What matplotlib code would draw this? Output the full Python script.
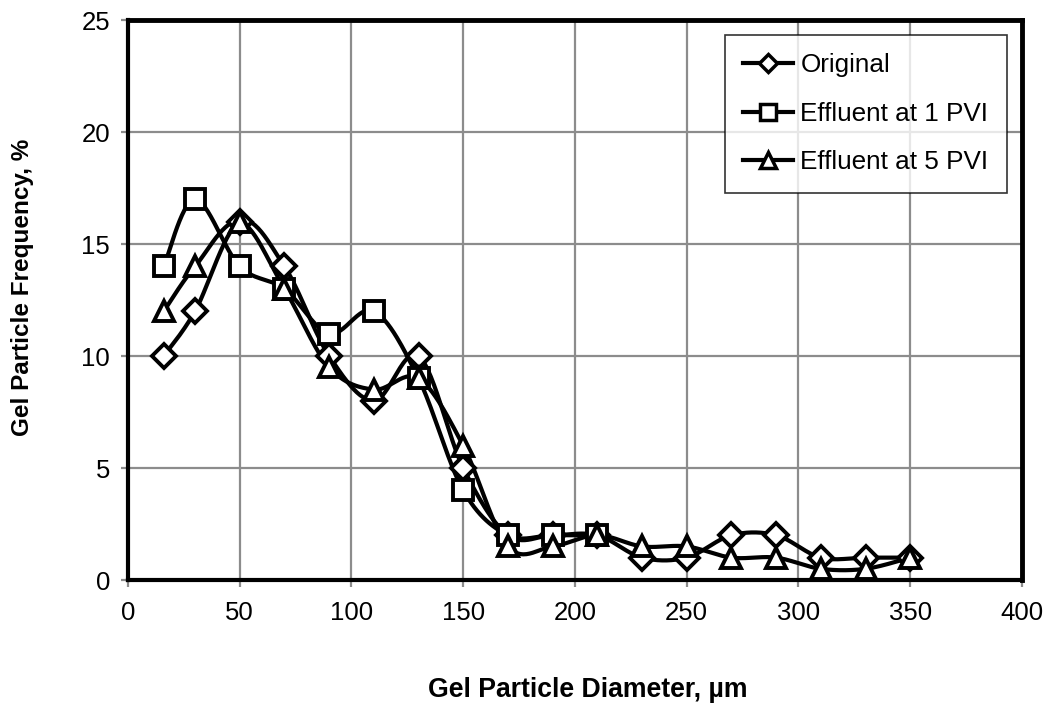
import numpy as np
import matplotlib
matplotlib.use("Agg")
import matplotlib.pyplot as plt
from matplotlib.lines import Line2D

plt.rcParams['font.family'] = ['Liberation Sans', 'DejaVu Sans']

# Particle diameter bins (µm) and frequency (%) for each sample
diameter = [16, 30, 50, 70, 90, 110, 130, 150, 170, 190, 210, 230, 250, 270, 290, 310, 330, 350]
original = [10, 12, 16, 14, 10, 8, 10, 5, 2, 2, 2, 1, 1, 2, 2, 1, 1, 1]

diameter_1pvi = [16, 30, 50, 70, 90, 110, 130, 150, 170, 190, 210]
effluent_1pvi = [14, 17, 14, 13, 11, 12, 9, 4, 2, 2, 2]

effluent_5pvi = [12, 14, 16, 13, 9.5, 8.5, 9, 6, 1.5, 1.5, 2, 1.5, 1.5, 1, 1, 0.5, 0.5, 1]

x_ticks = [0, 50, 100, 150, 200, 250, 300, 350, 400]
y_ticks = [0, 5, 10, 15, 20, 25]


def smooth(xs, ys, n=30):
    """Cardinal (Catmull-Rom style) Bezier smoothing through every point."""
    xs = np.asarray(xs, float)
    ys = np.asarray(ys, float)
    pts = np.column_stack([xs, ys])
    out = []
    m = len(pts)
    t = np.linspace(0, 1, n)[:, None]
    for i in range(m - 1):
        p0 = pts[i - 1] if i > 0 else pts[i]
        p1 = pts[i]
        p2 = pts[i + 1]
        p3 = pts[i + 2] if i + 2 < m else pts[i + 1]
        c1 = p1 + (p2 - p0) / 6.0
        c2 = p2 - (p3 - p1) / 6.0
        seg = ((1 - t) ** 3) * p1 + 3 * ((1 - t) ** 2) * t * c1 + 3 * (1 - t) * t ** 2 * c2 + t ** 3 * p2
        out.append(seg if i == 0 else seg[1:])
    seg = np.vstack(out)
    return seg[:, 0], seg[:, 1]


fig = plt.figure(figsize=(10.5, 7.07), dpi=100)
ax = fig.add_axes([0.1219, 0.1796, 0.8514, 0.7921])

series = [
    ("Original", diameter, original, "D", 12.5, 9.5),
    ("Effluent at 1 PVI", diameter_1pvi, effluent_1pvi, "s", 14.5, 11),
    ("Effluent at 5 PVI", diameter, effluent_5pvi, "^", 14.5, 11),
]

lw = 3.0
handles = []
for label, xs, ys, mk, ms, ms_leg in series:
    sx, sy = smooth(xs, ys)
    ax.plot(sx, sy, color="black", lw=lw, solid_capstyle="round", zorder=3)
    ax.plot(xs, ys, linestyle="none", marker=mk, markersize=ms,
            markerfacecolor="white", markeredgecolor="black",
            markeredgewidth=2.8, zorder=4)
    handles.append(Line2D([0], [0], color="black", lw=lw, marker=mk,
                          markersize=ms_leg, markerfacecolor="white",
                          markeredgecolor="black", markeredgewidth=2.5,
                          label=label))

ax.set_xlim(0, 400)
ax.set_ylim(0, 25)
ax.set_xticks(x_ticks)
ax.set_yticks(y_ticks)
ax.grid(True, color="#8c8c8c", lw=1.6, zorder=0)
ax.set_axisbelow(True)
ax.tick_params(axis="both", direction="out", length=5, width=1.6,
               color="#8c8c8c", labelsize=18.5)
ax.tick_params(axis="x", pad=10)
ax.tick_params(axis="y", pad=8)
for side in ["top", "right", "bottom", "left"]:
    ax.spines[side].set_color("black")
ax.spines["top"].set_linewidth(3.5)
ax.spines["right"].set_linewidth(3.5)
ax.spines["bottom"].set_linewidth(3.0)
ax.spines["left"].set_linewidth(3.0)

ax.set_xlabel("Gel Particle Diameter, µm", fontsize=19.2, fontweight="bold")
ax.set_ylabel("Gel Particle Frequency, %", fontsize=17.5, fontweight="bold")
# label centres placed in figure pixels: x label at (588, 690), y label at (23, 287)
ax.xaxis.set_label_coords((588 - 128) / 894, (580 - 690) / 560, transform=ax.transAxes)
ax.xaxis.label.set_va("center")
ax.yaxis.set_label_coords((23 - 128) / 894, (580 - 287) / 560, transform=ax.transAxes)
ax.yaxis.label.set_va("center")

leg = ax.legend(handles=handles, loc="upper right", bbox_to_anchor=(0.983, 0.973),
                fontsize=18.8, frameon=True, fancybox=False, edgecolor="black",
                handlelength=1.9, handletextpad=0.3, borderpad=0.7,
                labelspacing=0.94, borderaxespad=0.0)
leg.get_frame().set_linewidth(1.2)

fig.savefig("out.png", dpi=100)
